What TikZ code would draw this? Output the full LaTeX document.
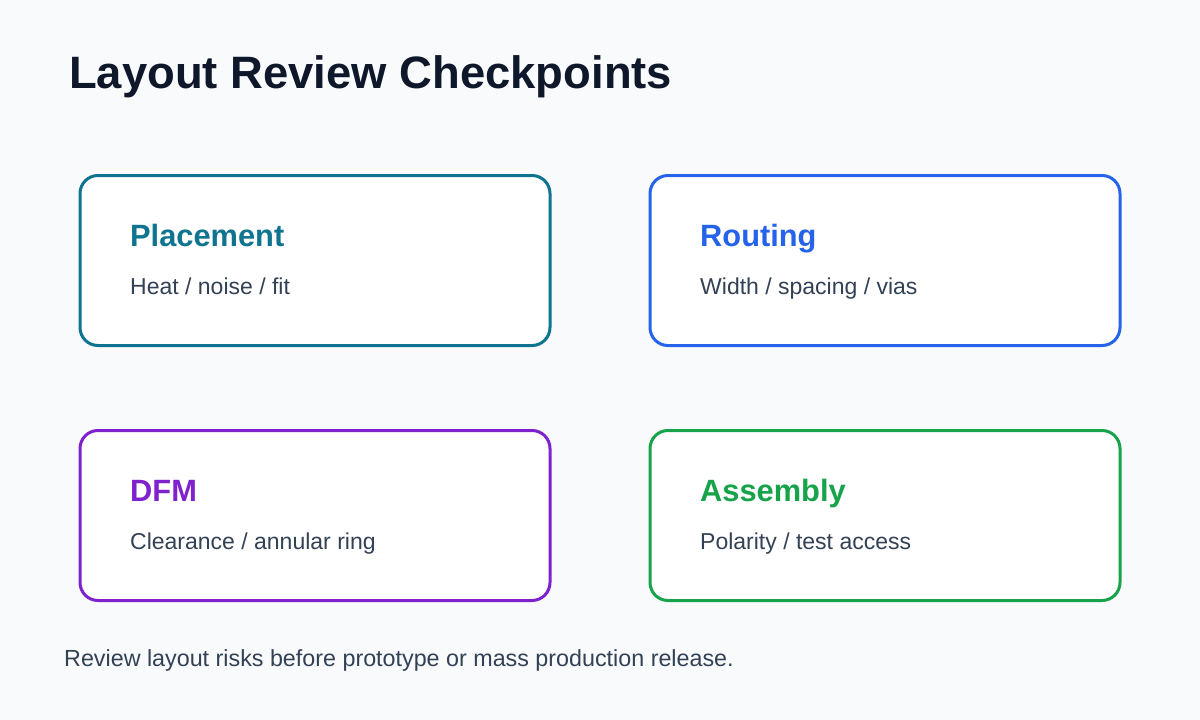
\documentclass[tikz,border=0pt]{standalone}
\usepackage{fontspec}
\setmainfont{Liberation Sans}
\definecolor{bg}{HTML}{F8FAFC}
\definecolor{titlec}{HTML}{0F172A}
\definecolor{subc}{HTML}{334155}
\definecolor{cteal}{HTML}{0E7490}
\definecolor{cblue}{HTML}{2563EB}
\definecolor{cpurple}{HTML}{7E22CE}
\definecolor{cgreen}{HTML}{16A34A}
\tikzset{
  card/.style={draw=#1, fill=white, line width=3pt, rounded corners=18pt, minimum width=470pt, minimum height=170pt, inner sep=0pt, outer sep=0pt, anchor=north west},
  head/.style={text=#1, anchor=base west, inner sep=0pt, font=\fontsize{30.8}{36}\selectfont\bfseries},
  sub/.style={text=subc, anchor=base west, inner sep=0pt, font=\fontsize{23}{28}\selectfont}
}
\begin{document}
\begin{tikzpicture}[x=1pt,y=-1pt]
\fill[bg] (0,0) rectangle (1200,720);
\useasboundingbox (0,0) rectangle (1200,720);
\node[anchor=base west, inner sep=0pt, text=titlec, font=\fontsize{45.4}{54}\selectfont\bfseries] (title) at (69,88) {Layout Review Checkpoints};
\node[card=cteal] (c1) at (80,175.5) {};
\node[card=cblue] (c2) at (650,175.5) {};
\node[card=cpurple] (c3) at (80,430.5) {};
\node[card=cgreen] (c4) at (650,430.5) {};
\node[head=cteal] (h1) at (130,246) {Placement};
\node[sub] (s1) at (130,294) {Heat / noise / fit};
\node[head=cblue] (h2) at (700,246) {Routing};
\node[sub] (s2) at (700,294) {Width / spacing / vias};
\node[head=cpurple] (h3) at (130,501) {DFM};
\node[sub] (s3) at (130,549) {Clearance / annular ring};
\node[head=cgreen] (h4) at (700,501) {Assembly};
\node[sub] (s4) at (700,549) {Polarity / test access};
\node[sub, font=\fontsize{23.3}{28}\selectfont] (foot) at (64,666) {Review layout risks before prototype or mass production release.};
\end{tikzpicture}
\end{document}
